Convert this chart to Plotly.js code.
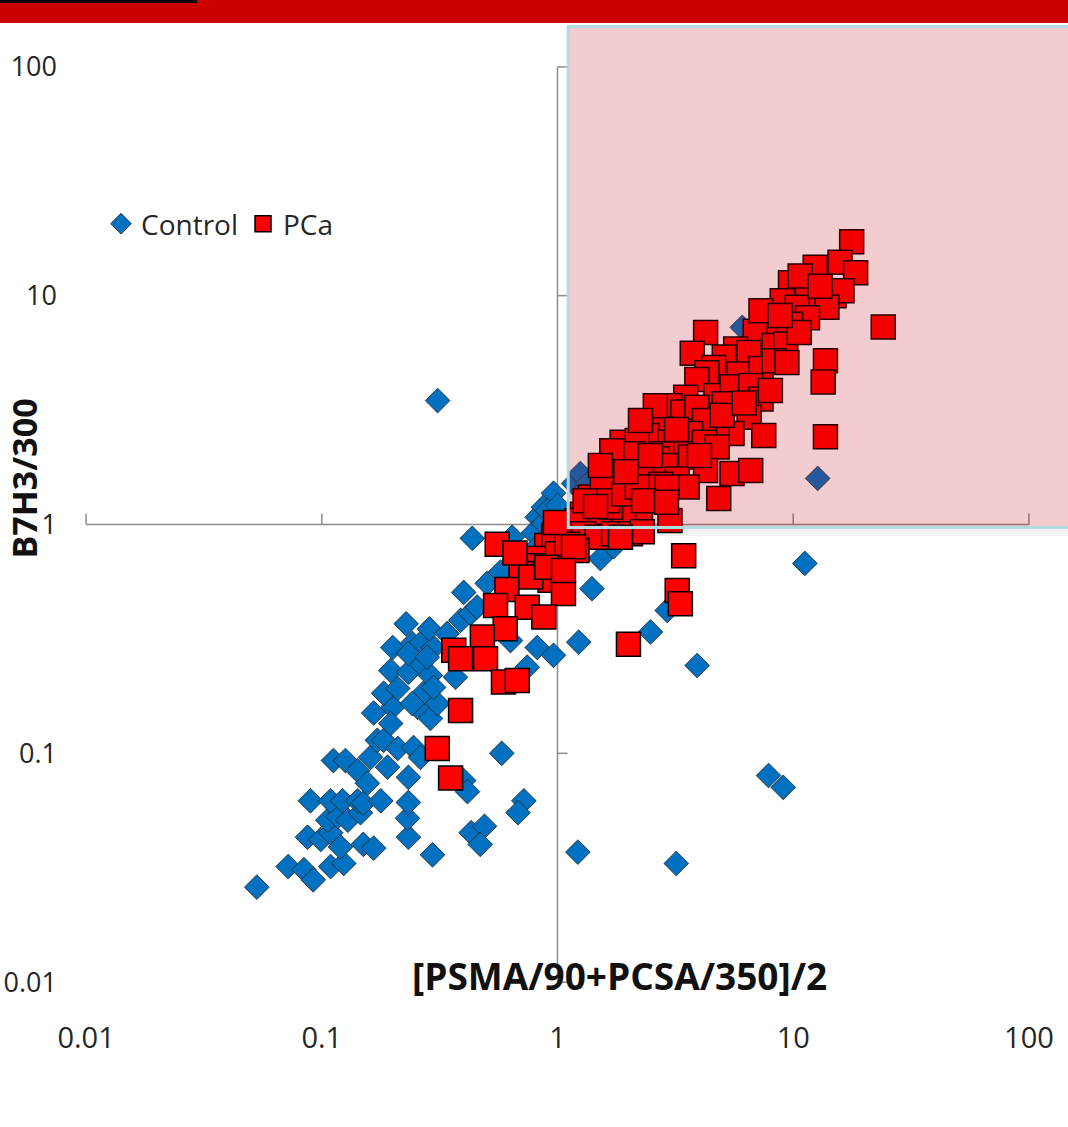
<!DOCTYPE html>
<html>
<head>
<meta charset="utf-8">
<script src="https://cdn.plot.ly/plotly-3.0.1.min.js"></script>
<style>html,body{margin:0;padding:0;background:#fff;}#chart{width:1068px;height:1127px;}</style>
</head>
<body>
<div id="chart"></div>
<script>
// ---- data ----
const controlX = [0.31,12.7,6.08,11.2,3.91,7.86,9.07,3.19,1.22,0.72,0.68,0.58,0.43,0.49,0.47,0.40,0.415,0.295,0.053,0.072,0.084,0.092,0.109,0.124,0.087,0.099,0.109,0.12,0.15,0.166,0.233,0.106,0.117,0.129,0.146,0.231,0.0895,0.109,0.1225,0.142,0.15,0.178,0.233,0.112,0.126,0.161,0.19,0.142,0.156,0.233,0.172,0.183,0.21,0.245,0.262,0.166,0.2,0.255,0.289,0.196,0.183,0.21,0.27,0.31,0.242,0.196,0.233,0.262,0.289,0.369,0.298,0.2,0.242,0.262,0.298,0.233,0.28,0.228,0.286,0.34,0.388,0.428,0.40,0.456,0.503,0.573,0.435,0.642,0.82,0.872,0.962,0.79,0.872,0.82,0.82,0.962,0.744,1.23,1.40,1.52,1.73,2.48,2.92,0.632,1.17,1.29,0.962,0.907,1.25,1.0,1.34];
const controlY = [3.48,1.59,7.27,0.676,0.242,0.080,0.071,0.033,0.037,0.062,0.055,0.10,0.045,0.048,0.040,0.076,0.068,0.036,0.026,0.032,0.031,0.028,0.032,0.033,0.043,0.042,0.045,0.039,0.040,0.0385,0.043,0.051,0.053,0.051,0.055,0.052,0.062,0.062,0.062,0.062,0.0605,0.062,0.061,0.093,0.093,0.096,0.087,0.084,0.074,0.0785,0.114,0.114,0.105,0.106,0.096,0.15,0.159,0.159,0.142,0.135,0.183,0.192,0.183,0.165,0.165,0.23,0.226,0.247,0.219,0.215,0.194,0.29,0.302,0.302,0.29,0.273,0.263,0.368,0.35,0.334,0.381,0.409,0.505,0.436,0.553,0.62,0.87,0.88,1.076,1.19,1.19,0.92,1.01,0.80,0.29,0.268,0.238,0.306,0.524,0.71,0.80,0.339,0.421,0.311,1.51,1.41,1.37,1.15,1.67,1.21,1.51];

const pcaX = [17.7,15.8,18.4,12.4,9.74,11.5,14.9,16.1,13.9,8.98,10.4,11.5,9.74,8.55,7.5,6.9,8.3,9.3,10.6,24.1,4.25,3.73,5.7,6.5,5.1,4.6,5.9,7.3,8.3,9.4,13.7,13.4,4.3,3.9,4.7,5.5,6.6,7.3,3.5,3.0,3.4,3.9,5.1,6.5,5.5,4.76,4.2,3.67,2.74,2.4,3.0,2.78,3.5,4.2,4.76,7.5,13.7,1.88,2.18,2.1,2.65,3.67,4.25,5.5,6.6,4.83,3.0,1.7,1.65,2.0,2.4,2.87,3.22,3.55,2.74,2.4,1.68,1.38,1.55,2.04,2.25,1.91,1.27,1.52,1.14,0.555,0.9,0.965,0.82,0.80,0.70,1.03,0.93,1.06,0.61,0.546,0.744,0.875,0.60,0.48,0.363,0.388,0.495,0.59,0.675,0.388,0.309,0.352,1.34,1.50,1.68,1.21,1.14,1.29,1.47,1.73,2.04,2.29,3.43,3.22,3.32,2.0,1.0,1.21,1.10,0.77,1.63,1.91,2.18,2.92,2.32,1.85,1.17,0.90,1.06,2.6,2.25,2.48,1.52,1.31,5.0,8.0,7.3,10.7,13.0,8.8,6.2,4.0,3.2,2.9,1.95,1.45,0.98,0.66];
const pcaY = [17.2,14.0,12.6,13.3,11.4,10.2,10.0,10.5,8.9,9.5,8.9,8.0,7.5,6.8,7.3,7.0,6.05,6.15,6.9,7.3,6.9,5.6,5.85,5.65,5.4,4.86,4.55,4.8,5.2,5.1,5.2,4.2,4.6,4.3,3.66,4.0,4.05,3.54,3.6,3.3,3.1,3.25,3.37,2.94,2.5,2.66,2.85,2.5,2.62,2.45,2.29,2.04,2.04,2.29,2.18,2.45,2.42,2.29,2.33,2.04,1.94,1.97,1.72,1.67,1.72,1.3,1.04,2.1,1.58,1.61,1.67,1.81,1.58,1.46,1.5,1.46,1.25,1.32,1.5,1.27,1.15,1.11,1.11,1.08,0.97,0.82,0.81,0.895,0.71,0.66,0.61,0.65,0.57,0.50,0.52,0.443,0.435,0.394,0.35,0.322,0.282,0.259,0.259,0.205,0.208,0.154,0.105,0.078,1.10,1.13,1.19,1.04,0.91,0.91,0.88,0.91,0.91,0.93,0.73,0.515,0.45,0.30,0.745,0.77,0.82,0.59,1.27,1.36,1.46,1.46,1.27,0.88,0.80,0.65,0.63,3.3,2.85,2.0,1.81,1.27,3.0,3.85,8.6,12.2,11.0,8.2,3.4,2.0,2.6,1.25,1.7,1.2,1.02,0.75];

const tickVals = [0.01, 0.1, 1, 10, 100];
const tickText = ['0.01', '0.1', '1', '10', '100'];
const seriesNames = ['Control', 'PCa'];
const xTitle = '[PSMA/90+PCSA/350]/2';
const yTitle = 'B7H3/300';
// highlighted region (PCa zone)
const zoneXMin = 1.11, zoneYMin = 0.97, zoneYMax = 150;

// ---- layout geometry ----
const W = 1068, H = 1127;
const M = {l: 79, r: 32, t: 60, b: 138};
const logRange = [-2.03, 2.03];
const plotW = W - M.l - M.r, plotH = H - M.t - M.b;
const pxToPaperX = px => (px - M.l) / plotW;
const pxToPaperY = py => (H - M.b - py) / plotH;
const valToPaper = v => (Math.log10(v) - logRange[0]) / (logRange[1] - logRange[0]);

const axisColor = '#8c8c8c';
const shapes = [];
// crossing axis lines at x=1 and y=1
shapes.push({type: 'line', xref: 'x', yref: 'y', x0: tickVals[0], x1: tickVals[4], y0: 1, y1: 1,
  line: {color: axisColor, width: 1.5}, layer: 'below'});
shapes.push({type: 'line', xref: 'x', yref: 'y', x0: 1, x1: 1, y0: tickVals[0], y1: tickVals[4],
  line: {color: axisColor, width: 1.5}, layer: 'below'});
tickVals.forEach(v => {
  shapes.push({type: 'line', xref: 'x', yref: 'y', x0: v, x1: v, ysizemode: 'pixel', yanchor: 1, y0: -11, y1: 11,
    line: {color: axisColor, width: 1.5}, layer: 'below'});
  shapes.push({type: 'line', xref: 'x', yref: 'y', y0: v, y1: v, xsizemode: 'pixel', xanchor: 1, x0: -10, x1: 10,
    line: {color: axisColor, width: 1.5}, layer: 'below'});
});
// soft shadow under the shaded zone
shapes.push({type: 'rect', xref: 'paper', yref: 'paper',
  x0: valToPaper(zoneXMin), x1: 1.08, y0: pxToPaperY(536), y1: valToPaper(zoneYMin),
  fillcolor: 'rgba(0,0,0,0.05)', line: {width: 0}, layer: 'above'});
// shaded PCa zone
shapes.push({type: 'rect', xref: 'paper', yref: 'paper',
  x0: valToPaper(zoneXMin), x1: 1.08, y0: valToPaper(zoneYMin), y1: valToPaper(zoneYMax),
  fillcolor: 'rgba(191,0,10,0.2)', line: {color: '#b3dbe2', width: 3}, layer: 'above'});
// slide banner at top
shapes.push({type: 'rect', xref: 'paper', yref: 'paper', x0: -0.1, x1: 1.1, y0: pxToPaperY(23), y1: pxToPaperY(-5),
  fillcolor: '#cc0000', line: {width: 0}, layer: 'above'});
shapes.push({type: 'rect', xref: 'paper', yref: 'paper', x0: -0.1, x1: pxToPaperX(197), y0: pxToPaperY(3), y1: pxToPaperY(-5),
  fillcolor: '#000000', line: {width: 0}, layer: 'above'});

const font = 'Open Sans, Noto Sans, sans-serif';

const traces = [
  {type: 'scatter', mode: 'markers', name: seriesNames[0], x: controlX, y: controlY,
   marker: {symbol: 'diamond', size: 19, color: '#0070c0', line: {color: 'rgba(40,40,40,0.85)', width: 1}}},
  {type: 'scatter', mode: 'markers', name: seriesNames[1], x: pcaX, y: pcaY,
   marker: {symbol: 'square', size: 24, color: '#ff0000', line: {color: '#000000', width: 1.5}}}
];

const axisCommon = {type: 'log', range: logRange, showgrid: false, zeroline: false, showline: false,
  ticks: '', tickmode: 'array', tickvals: tickVals, ticktext: tickText, fixedrange: true};

const layout = {
  width: W, height: H, margin: M,
  paper_bgcolor: '#ffffff', plot_bgcolor: '#ffffff',
  showlegend: true,
  legend: {orientation: 'h', x: pxToPaperX(101), y: pxToPaperY(224), xanchor: 'left', yanchor: 'middle',
    bgcolor: 'rgba(0,0,0,0)', font: {family: font, size: 28, color: '#262626'}},
  xaxis: Object.assign({}, axisCommon, {ticklabelstandoff: 29, tickfont: {family: font, size: 29, color: '#262626'}}),
  yaxis: Object.assign({}, axisCommon, {ticklabelstandoff: 21, tickfont: {family: font, size: 27, color: '#262626'}}),
  shapes: shapes,
  annotations: [
    {text: '<b>' + xTitle + '</b>', xref: 'paper', yref: 'paper', x: pxToPaperX(619.5), y: pxToPaperY(975),
     xanchor: 'center', yanchor: 'middle', showarrow: false, font: {family: font, size: 37, color: '#111111'}},
    {text: '<b>' + yTitle + '</b>', xref: 'paper', yref: 'paper', x: pxToPaperX(24), y: pxToPaperY(478.5),
     xanchor: 'center', yanchor: 'middle', textangle: -90, showarrow: false, font: {family: font, size: 34, color: '#111111'}}
  ]
};

Plotly.newPlot('chart', traces, layout, {displayModeBar: false, staticPlot: true});
</script>
</body>
</html>
